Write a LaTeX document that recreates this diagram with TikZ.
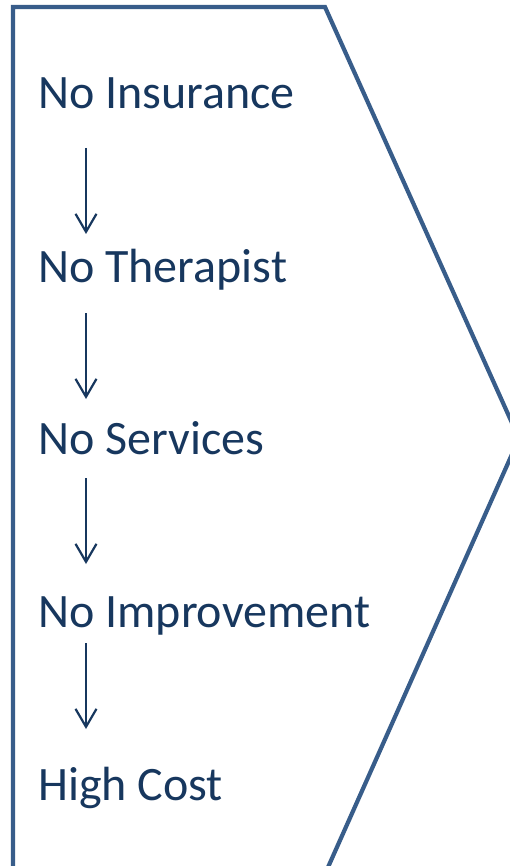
\documentclass[tikz,border=0pt]{standalone}
\usepackage{fontspec}
\setmainfont{Carlito}
\usetikzlibrary{arrows.meta}
\definecolor{chevronblue}{RGB}{56,93,138}
\definecolor{textnavy}{RGB}{23,55,94}

\begin{document}
\begin{tikzpicture}[x=1pt,y=-1pt,
  stagetext/.style={anchor=base west, inner sep=0pt, text=textnavy, font=\fontsize{48}{58}\selectfont},
  flowarrow/.style={draw=textnavy, line width=2.2pt, -{Straight Barb[length=18pt,width=21pt]}}]
        \useasboundingbox (0,0) rectangle (510,866);
        \clip (0,0) rectangle (510,866);
        % chevron outline, cut by the page at right and bottom
        \draw[chevronblue, line width=4.2pt, line join=miter] (13,7) -- (325,7) -- (519,438.5) -- (325,874) -- (13,874) -- cycle;
        \node[stagetext] (insurance) at (38,109) {No Insurance};
        \node[stagetext] (therapist) at (38,282) {No Therapist};
        \node[stagetext] (services) at (38,454) {No Services};
        \node[stagetext] (improvement) at (38,627) {No Improvement};
        \node[stagetext] (cost) at (38,800) {High Cost};
        \foreach \i/\t in {1/148,2/313,3/478,4/643}{
            \coordinate (top\i) at (86,\t);
            \coordinate (tip\i) at (86,\t+86);
            \draw[flowarrow] (top\i) -- (tip\i);
        }
\end{tikzpicture}
\end{document}
